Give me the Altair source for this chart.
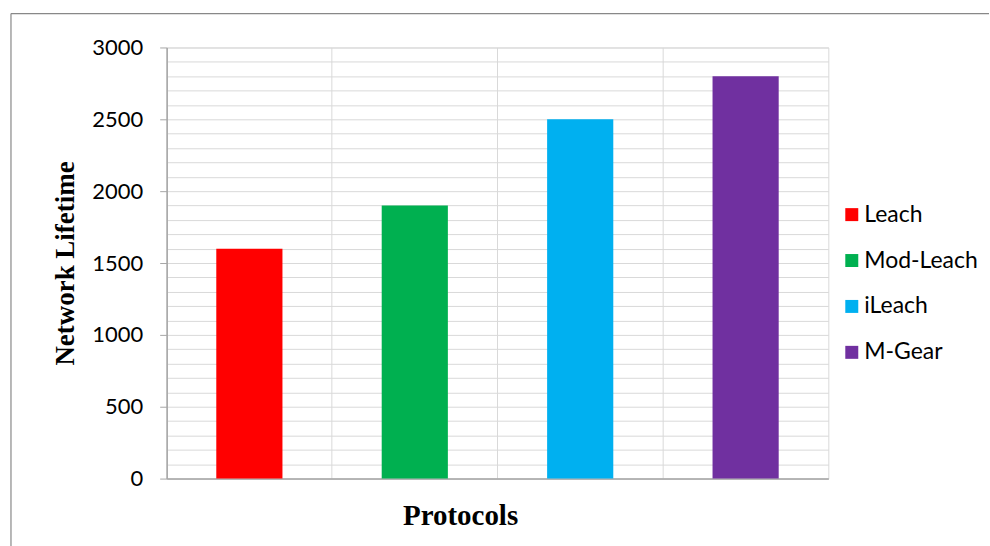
import altair as alt
import pandas as pd

protocols = ["Leach", "Mod-Leach", "iLeach", "M-Gear"]
lifetimes = [1600, 1900, 2500, 2800]
colors = ["#FF0000", "#00B050", "#00B0F0", "#7030A0"]
grid_values = list(range(0, 3001, 100))

df = pd.DataFrame({"Protocol": protocols, "Lifetime": lifetimes})

bars = alt.Chart(df).mark_bar(width=alt.RelativeBandSize(0.4)).encode(
    x=alt.X(
        "Protocol:N",
        sort=protocols,
        scale=alt.Scale(paddingInner=0, paddingOuter=0),
        axis=alt.Axis(
            title="Protocols",
            labels=False,
            ticks=False,
            grid=True,
            bandPosition=0,
            gridColor="#d9d9d9",
            domainColor="#a6a6a6",
            domainWidth=1.5,
            titleFont="Liberation Serif",
            titleFontWeight="bold",
            titleFontSize=29,
            titleColor="#000000",
            titleX=294,
            titleY=37,
            titleBaseline="middle",
            titleAlign="center",
        ),
    ),
    y=alt.Y(
        "Lifetime:Q",
        scale=alt.Scale(domain=[0, 3000], nice=False),
        axis=alt.Axis(
            title="Network Lifetime",
            values=grid_values,
            format="d",
            labelExpr="datum.value % 500 === 0 ? datum.label : ''",
            grid=True,
            gridColor="#d9d9d9",
            domainColor="#a6a6a6",
            domainWidth=1.5,
            tickColor="#a6a6a6",
            tickSize=7,
            tickOpacity={"condition": {"test": "datum.value % 500 === 0", "value": 1}, "value": 0},
            labelFont="Lato",
            labelFontSize=22,
            labelColor="#000000",
            labelPadding=17,
            titleFont="Liberation Serif",
            titleFontWeight="bold",
            titleFontSize=27,
            titleColor="#000000",
            titleX=-101,
            titleY=216,
            titleAngle=270,
            titleAlign="center",
            titleBaseline="middle",
        ),
    ),
    color=alt.Color(
        "Protocol:N",
        sort=protocols,
        scale=alt.Scale(domain=protocols, range=colors),
        legend=alt.Legend(
            title=None,
            orient="none",
            legendX=675,
            legendY=156,
            symbolType="square",
            symbolSize=169,
            symbolStrokeWidth=0,
            symbolOpacity=1,
            labelFont="Lato",
            labelFontSize=23,
            labelColor="#000000",
            labelOffset=1,
            rowPadding=22,
            padding=0,
        ),
    ),
)

frame_df = pd.DataFrame({"k": [0]})
top_rule = alt.Chart(frame_df).mark_rule(color="#888888", strokeWidth=1.2).encode(
    x=alt.value(-156), x2=alt.value(824), y=alt.value(-34)
)
left_rule = alt.Chart(frame_df).mark_rule(color="#888888", strokeWidth=1.2).encode(
    x=alt.value(-156), y=alt.value(-34), y2=alt.value(500)
)

chart = alt.layer(bars, top_rule, left_rule).properties(
    width=663,
    height=432,
    padding={"left": 10, "top": 12, "right": 0, "bottom": 0},
    background="#ffffff",
).configure_view(stroke="#d9d9d9", strokeWidth=1)

chart.save("out.html", embed_options={"renderer": "svg", "actions": False})
